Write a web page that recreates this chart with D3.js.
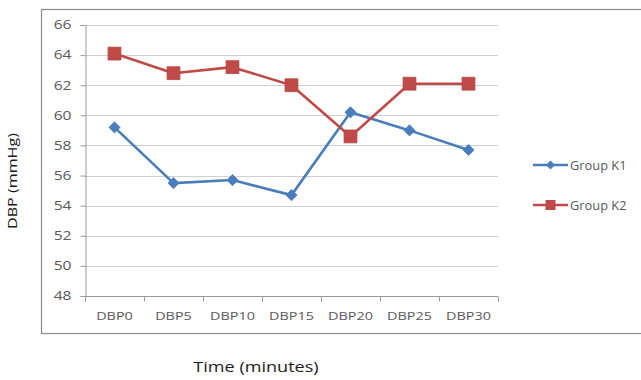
<!DOCTYPE html>
<html>
<head>
<meta charset="utf-8">
<script src="https://cdn.jsdelivr.net/npm/d3@7"></script>
<style>
  html, body { margin: 0; padding: 0; background: #fff; }
  svg { display: block; }
  text { font-family: "Open Sans", "DejaVu Sans", sans-serif; }
</style>
</head>
<body>
<svg id="chart" width="641" height="380"></svg>
<script>
// Diastolic blood pressure over time, two groups
const categories = ["DBP0", "DBP5", "DBP10", "DBP15", "DBP20", "DBP25", "DBP30"];
const groupK1 = [59.2, 55.5, 55.7, 54.7, 60.2, 59.0, 57.7];
const groupK2 = [64.1, 62.8, 63.2, 62.0, 58.6, 62.1, 62.1];
const yTicks = [48, 50, 52, 54, 56, 58, 60, 62, 64, 66];
const seriesNames = ["Group K1", "Group K2"];

const svg = d3.select("#chart");
const plot = { left: 85, right: 498, top: 25, bottom: 296 };

// widen text horizontally by a factor
function widen(sel, k) {
  sel.each(function () {
    const w = this.getComputedTextLength();
    d3.select(this).attr("textLength", w * k).attr("lengthAdjust", "spacingAndGlyphs");
  });
}

// outer frame
svg.append("rect")
  .attr("x", 41.5).attr("y", 9.5)
  .attr("width", 605).attr("height", 324)
  .attr("fill", "none").attr("stroke", "#8c8c8c").attr("stroke-width", 1.2);

const x = d3.scaleBand().domain(categories).range([plot.left, plot.right]);
const y = d3.scaleLinear().domain([48, 66]).range([plot.bottom, plot.top]);

// horizontal gridlines
svg.append("g").selectAll("line")
  .data(yTicks.filter(t => t !== 48))
  .join("line")
  .attr("x1", plot.left).attr("x2", plot.right)
  .attr("y1", d => Math.round(y(d)) + 0.5).attr("y2", d => Math.round(y(d)) + 0.5)
  .attr("stroke", "#d0d0d0").attr("stroke-width", 1.2);

// y axis
const yAxis = svg.append("g")
  .attr("transform", `translate(${plot.left + 0.5},0)`)
  .call(d3.axisLeft(y).tickValues(yTicks).tickSize(5).tickPadding(9).tickFormat(d3.format("d")));
yAxis.select(".domain").attr("stroke", "#9a9a9a");
yAxis.selectAll(".tick line").attr("stroke", "#9a9a9a");
yAxis.selectAll(".tick text").attr("fill", "#595959").style("font-size", "12px")
  .style("font-family", "'Open Sans', sans-serif");
widen(yAxis.selectAll(".tick text"), 1.3);

// x axis, ticks on category boundaries
const xAxisG = svg.append("g")
  .attr("transform", `translate(0,${Math.round(plot.bottom) + 0.5})`);
xAxisG.append("line")
  .attr("x1", plot.left).attr("x2", plot.right)
  .attr("stroke", "#9a9a9a");
const bounds = categories.map(c => x(c)).concat([plot.right]);
xAxisG.selectAll("line.tk").data(bounds).join("line").attr("class", "tk")
  .attr("x1", d => Math.round(d) + 0.5).attr("x2", d => Math.round(d) + 0.5)
  .attr("y1", 0).attr("y2", 5).attr("stroke", "#9a9a9a");
const xLabels = xAxisG.selectAll("text").data(categories).join("text")
  .attr("x", d => x(d) + x.bandwidth() / 2)
  .attr("y", 23)
  .attr("text-anchor", "middle")
  .attr("fill", "#595959")
  .style("font-size", "11.5px")
  .text(d => d);
widen(xLabels, 1.25);

const colors = ["#4a7ebb", "#be4b48"];
const line = d3.line()
  .x((d, i) => x(categories[i]) + x.bandwidth() / 2)
  .y(d => y(d));

[groupK1, groupK2].forEach((vals, s) => {
  svg.append("path")
    .datum(vals)
    .attr("d", line)
    .attr("fill", "none")
    .attr("stroke", colors[s])
    .attr("stroke-width", 2.6)
    .attr("stroke-linejoin", "round");
  const size = s === 0 ? 62 : 165;
  const rot = s === 0 ? 45 : 0;
  svg.append("g").selectAll("path")
    .data(vals)
    .join("path")
    .attr("transform", (d, i) => `translate(${x(categories[i]) + x.bandwidth() / 2},${y(d)}) rotate(${rot})`)
    .attr("d", d3.symbol().type(d3.symbolSquare).size(size))
    .attr("fill", colors[s])
    .attr("stroke", s === 0 ? colors[s] : "#b8433f")
    .attr("stroke-width", 0.8);
});

// legend
const legend = svg.append("g");
seriesNames.forEach((name, s) => {
  const ly = s === 0 ? 165 : 205;
  legend.append("line")
    .attr("x1", 533).attr("x2", 568).attr("y1", ly).attr("y2", ly)
    .attr("stroke", colors[s]).attr("stroke-width", 2.6);
  legend.append("path")
    .attr("transform", `translate(550.5,${ly}) rotate(${s === 0 ? 45 : 0})`)
    .attr("d", d3.symbol().type(d3.symbolSquare).size(s === 0 ? 40 : 100))
    .attr("fill", colors[s]);
  const t = legend.append("text")
    .attr("x", 570).attr("y", ly + 4.5)
    .attr("fill", "#595959")
    .style("font-size", "12px")
    .text(name);
  widen(t, 1.07);
});

// axis titles
const yTitle = svg.append("text")
  .attr("transform", "translate(17,181) rotate(-90)")
  .attr("text-anchor", "middle")
  .attr("fill", "#1a1a1a")
  .style("font-size", "12.5px")
  .text("DBP (mmHg)");
widen(yTitle, 1.29);
const xTitle = svg.append("text")
  .attr("x", 256).attr("y", 372)
  .attr("text-anchor", "middle")
  .attr("fill", "#1a1a1a")
  .style("font-size", "14px")
  .text("Time (minutes)");
widen(xTitle, 1.29);
</script>
</body>
</html>
